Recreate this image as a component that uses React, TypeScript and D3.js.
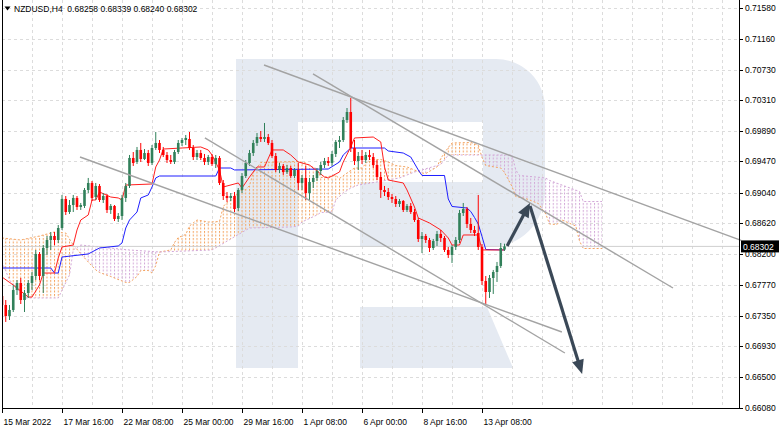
import * as d3 from "d3";

const W = 782;
const H = 430;
const PLOT_LEFT = 2;
const PLOT_RIGHT = 739;
const PLOT_BOTTOM = 408;

// right price scale
const priceTicks = [0.7158, 0.7116, 0.7073, 0.7031, 0.6989, 0.6947, 0.6904, 0.6862, 0.682, 0.6777, 0.6735, 0.6693, 0.665, 0.6608];

// time scale, one label every 16 H4 bars
const timeTickBars = [0, 16, 32, 48, 64, 80, 96, 112, 128];
const timeTickLabels = ["15 Mar 2022", "17 Mar 16:00", "22 Mar 08:00", "25 Mar 00:00", "29 Mar 16:00", "1 Apr 08:00", "6 Apr 00:00", "8 Apr 16:00", "13 Apr 08:00"];

const symbol = "NZDUSD,H4";

// NZDUSD H4 candles, 15 Mar 00:00 .. 14 Apr 08:00
const opens = [
  0.6762, 0.67496, 0.67345, 0.67428, 0.67703, 0.67799, 0.67565, 0.67661, 0.67799, 0.67895,
  0.68198, 0.67895, 0.6828, 0.6839, 0.68445, 0.6839, 0.68555, 0.68954, 0.68775, 0.68871,
  0.68968, 0.68844, 0.68858, 0.69078, 0.69174, 0.68981, 0.69133, 0.6894, 0.68995, 0.68803,
  0.68858, 0.68679, 0.6872, 0.68968, 0.69133, 0.69518, 0.69463, 0.69628, 0.69504, 0.69586,
  0.69449, 0.69655, 0.69724, 0.69628, 0.69559, 0.6949, 0.69463, 0.696, 0.69724, 0.69765,
  0.69779, 0.69655, 0.69531, 0.69586, 0.69518, 0.69463, 0.69531, 0.69435, 0.69518, 0.69174,
  0.68995, 0.68968, 0.68995, 0.6883, 0.69078, 0.6927, 0.69449, 0.69586, 0.69724, 0.69806,
  0.69779, 0.69806, 0.69724, 0.69545, 0.69353, 0.69408, 0.69325, 0.6938, 0.6927, 0.69353,
  0.69174, 0.69243, 0.69036, 0.69188, 0.69243, 0.69339, 0.69421, 0.69476, 0.69449, 0.69573,
  0.69738, 0.69765, 0.7004, 0.7015, 0.69655, 0.69476, 0.69545, 0.6949, 0.69559, 0.69531,
  0.69421, 0.69256, 0.69078, 0.6905, 0.68981, 0.68954, 0.68885, 0.68926, 0.68803, 0.68858,
  0.68775, 0.68665, 0.68404, 0.68445, 0.6839, 0.6828, 0.68376, 0.68473, 0.68418, 0.68253,
  0.68184, 0.68294, 0.6839, 0.68761, 0.68816, 0.6861, 0.68528, 0.68486, 0.68294, 0.67826,
  0.67675, 0.67868, 0.6795, 0.68033, 0.68258,
];
const highs = [
  0.67661, 0.67565, 0.67496, 0.67771, 0.6784, 0.67868, 0.67703, 0.6784, 0.6795, 0.68253,
  0.68225, 0.68321, 0.68445, 0.685, 0.685, 0.68596, 0.69009, 0.68995, 0.6894, 0.69009,
  0.68995, 0.68899, 0.69105, 0.69243, 0.69201, 0.69174, 0.6916, 0.69036, 0.69023, 0.68885,
  0.68871, 0.68761, 0.69009, 0.69174, 0.69559, 0.696, 0.69669, 0.69724, 0.69641, 0.69628,
  0.69696, 0.69875, 0.69765, 0.69669, 0.696, 0.69559, 0.69628, 0.69765, 0.69793, 0.69834,
  0.69875, 0.69696, 0.69628, 0.69628, 0.69573, 0.69559, 0.69573, 0.69559, 0.69545, 0.69215,
  0.6905, 0.69036, 0.6905, 0.69105, 0.69311, 0.6949, 0.69628, 0.69765, 0.69861, 0.69889,
  0.69999, 0.69848, 0.69765, 0.69586, 0.69449, 0.69435, 0.69421, 0.69408, 0.6938, 0.69449,
  0.69284, 0.69408, 0.69243, 0.69284, 0.6938, 0.69463, 0.69518, 0.69531, 0.69614, 0.69765,
  0.6982, 0.70081, 0.70205, 0.70343, 0.69765, 0.696, 0.69628, 0.696, 0.69628, 0.69586,
  0.6949, 0.69325, 0.69133, 0.69105, 0.69023, 0.68995, 0.68954, 0.6894, 0.68885, 0.68899,
  0.68816, 0.68693, 0.685, 0.68473, 0.68418, 0.68404, 0.68514, 0.68528, 0.68445, 0.68294,
  0.68321, 0.68431, 0.68803, 0.68899, 0.68844, 0.68693, 0.68583, 0.69009, 0.68335, 0.67895,
  0.67909, 0.67978, 0.68088, 0.68349, 0.68339,
];
const lows = [
  0.67455, 0.67263, 0.6729, 0.674, 0.67634, 0.6751, 0.674, 0.67593, 0.67703, 0.6784,
  0.6784, 0.67661, 0.68184, 0.68253, 0.68321, 0.68349, 0.68528, 0.68734, 0.68748, 0.68775,
  0.68803, 0.68803, 0.6883, 0.69036, 0.68926, 0.6894, 0.68913, 0.68899, 0.68761, 0.68748,
  0.68651, 0.68638, 0.68665, 0.68913, 0.69105, 0.69408, 0.69435, 0.69463, 0.6949, 0.69408,
  0.69421, 0.69628, 0.69586, 0.69531, 0.69449, 0.69435, 0.69435, 0.69573, 0.69683, 0.69696,
  0.69628, 0.6949, 0.6949, 0.6949, 0.69421, 0.69421, 0.69408, 0.6938, 0.69146, 0.6894,
  0.68913, 0.68926, 0.68775, 0.68789, 0.69036, 0.69243, 0.69408, 0.69545, 0.69683, 0.69738,
  0.69738, 0.69696, 0.69518, 0.69325, 0.69311, 0.69284, 0.69298, 0.69243, 0.69243, 0.69078,
  0.69078, 0.6894, 0.6894, 0.69105, 0.69201, 0.69284, 0.6938, 0.69408, 0.69408, 0.69531,
  0.69655, 0.69738, 0.69999, 0.696, 0.69421, 0.69353, 0.69435, 0.69449, 0.6949, 0.6938,
  0.69215, 0.68968, 0.68995, 0.6894, 0.68899, 0.68844, 0.68844, 0.68775, 0.68775, 0.68748,
  0.68638, 0.68363, 0.68211, 0.68349, 0.68225, 0.68253, 0.68308, 0.68363, 0.68225, 0.68143,
  0.68074, 0.68253, 0.68349, 0.6872, 0.68555, 0.68486, 0.68445, 0.68253, 0.67771, 0.67496,
  0.67593, 0.67648, 0.67813, 0.68005, 0.6824,
];
const closes = [
  0.67496, 0.67345, 0.67428, 0.67703, 0.67799, 0.67565, 0.67661, 0.67799, 0.67895, 0.68198,
  0.67895, 0.6828, 0.6839, 0.68445, 0.6839, 0.68555, 0.68954, 0.68775, 0.68871, 0.68968,
  0.68844, 0.68871, 0.69078, 0.69174, 0.68968, 0.69133, 0.6894, 0.68995, 0.68803, 0.68858,
  0.68679, 0.6872, 0.68968, 0.69133, 0.69518, 0.69449, 0.69628, 0.69504, 0.69586, 0.69449,
  0.69655, 0.69724, 0.69628, 0.69559, 0.6949, 0.69463, 0.696, 0.69724, 0.69765, 0.69793,
  0.69655, 0.69531, 0.69586, 0.69518, 0.69463, 0.69531, 0.69435, 0.69518, 0.69174, 0.68995,
  0.68968, 0.68995, 0.68816, 0.69078, 0.6927, 0.69449, 0.69586, 0.69724, 0.69806, 0.69779,
  0.69806, 0.69724, 0.69545, 0.69353, 0.69408, 0.69325, 0.6938, 0.6927, 0.69353, 0.69174,
  0.69243, 0.69036, 0.69188, 0.69243, 0.69339, 0.69421, 0.69476, 0.69449, 0.69573, 0.69738,
  0.69765, 0.7004, 0.7015, 0.69655, 0.69476, 0.69545, 0.6949, 0.69559, 0.69531, 0.69421,
  0.69256, 0.69078, 0.6905, 0.68981, 0.68954, 0.68885, 0.68926, 0.68803, 0.68858, 0.68775,
  0.68665, 0.68404, 0.68445, 0.6839, 0.6828, 0.68376, 0.68473, 0.68418, 0.68253, 0.68184,
  0.68294, 0.6839, 0.68761, 0.68816, 0.6861, 0.68528, 0.68486, 0.68294, 0.67826, 0.67675,
  0.67868, 0.6795, 0.68033, 0.6828, 0.68302,
];

// Ichimoku lines, [bar, price] points
const tenkan = [
  [0, 0.67881], [3, 0.67771], [7, 0.67606], [8, 0.67606], [10, 0.67771], [11, 0.67936], [14, 0.67936],
  [15, 0.68143], [16, 0.68294], [19, 0.68321], [20, 0.68528], [21, 0.68665], [23, 0.68734], [24, 0.6894],
  [25, 0.6894], [26, 0.6905], [29, 0.68981], [31, 0.68968], [32, 0.6894], [33, 0.69146], [40, 0.6916],
  [41, 0.69394], [42, 0.6949], [43, 0.69641], [53, 0.69669], [55, 0.69628], [56, 0.69559], [58, 0.69353],
  [59, 0.69119], [63, 0.69174], [64, 0.69105], [66, 0.69256], [68, 0.69394], [70, 0.69394], [72, 0.69628],
  [75, 0.69628], [77, 0.69559], [79, 0.69463], [82, 0.69421], [86, 0.69256], [87, 0.69243], [90, 0.69325],
  [91, 0.69463], [93, 0.69669], [94, 0.69793], [99, 0.69806], [101, 0.69738], [102, 0.69394], [103, 0.69215],
  [107, 0.69174], [108, 0.69078], [110, 0.68844], [111, 0.68693], [114, 0.68624], [117, 0.68528], [119, 0.68418],
  [120, 0.68321], [122, 0.68321], [123, 0.68459], [127, 0.68459], [128, 0.68253], [134, 0.68253],
];
const kijun = [
  [0, 0.68005], [13, 0.68005], [14, 0.67936], [15, 0.67936], [16, 0.68156], [23, 0.68198], [26, 0.6828],
  [31, 0.68308], [32, 0.68349], [33, 0.68555], [34, 0.68665], [36, 0.68775], [37, 0.68968], [39, 0.69009],
  [40, 0.69119], [41, 0.69243], [42, 0.6927], [57, 0.6927], [58, 0.6938], [61, 0.6938], [62, 0.69353],
  [87, 0.69366], [90, 0.69463], [91, 0.69559], [93, 0.69655], [102, 0.69655], [103, 0.69614], [107, 0.69586],
  [109, 0.69531], [111, 0.69353], [112, 0.69277], [118, 0.69277], [119, 0.68954], [120, 0.68851], [124, 0.6883],
  [125, 0.68782], [126, 0.687], [127, 0.6861], [128, 0.68438], [129, 0.68259], [134, 0.68253],
];
const spanA = [
  [0, 0.68418], [5, 0.6839], [10, 0.68445], [14, 0.685], [17, 0.68486], [19, 0.68321], [22, 0.68143],
  [25, 0.67978], [26, 0.67943], [29, 0.67888], [33, 0.67806], [34, 0.67806], [36, 0.67888], [37, 0.67971],
  [39, 0.67971], [40, 0.67936], [41, 0.68039], [42, 0.68225], [45, 0.68253], [46, 0.68356], [47, 0.68424],
  [49, 0.68466], [50, 0.68583], [52, 0.68665], [55, 0.68638], [58, 0.68644], [59, 0.68851], [60, 0.68906],
  [62, 0.68968], [63, 0.69064], [65, 0.69084], [66, 0.69139], [67, 0.69318], [68, 0.6938], [69, 0.69456],
  [79, 0.69469], [81, 0.69449], [82, 0.69414], [84, 0.69366], [85, 0.69249], [89, 0.69277], [90, 0.69236],
  [92, 0.69311], [94, 0.6938], [96, 0.6938], [98, 0.69497], [101, 0.69497], [103, 0.69463], [105, 0.69414],
  [108, 0.69394], [112, 0.69311], [113, 0.69304], [116, 0.69394], [117, 0.69511], [119, 0.69662], [120, 0.69724],
  [125, 0.69731], [127, 0.69696], [128, 0.69524], [129, 0.69414], [133, 0.6938], [134, 0.69318], [136, 0.69126],
  [137, 0.68988], [140, 0.68954], [143, 0.68892], [145, 0.68748], [146, 0.6861], [148, 0.68603], [149, 0.68672],
  [153, 0.68583], [154, 0.68376], [155, 0.68273], [160, 0.68273],
];
const spanB = [
  [0, 0.68088], [2, 0.6784], [6, 0.67593], [15, 0.67593], [18, 0.67909], [19, 0.68253], [21, 0.68321],
  [26, 0.68294], [34, 0.68253], [42, 0.68225], [56, 0.68253], [66, 0.68555], [77, 0.68569], [79, 0.68583],
  [80, 0.68638], [84, 0.68734], [85, 0.68768], [88, 0.68775], [89, 0.6894], [91, 0.69036], [93, 0.69105],
  [95, 0.69146], [100, 0.69188], [106, 0.69243], [110, 0.69325], [117, 0.69428], [118, 0.6949], [119, 0.69559],
  [136, 0.69559], [137, 0.69353], [138, 0.69277], [145, 0.69243], [146, 0.69209], [154, 0.69057], [155, 0.68919],
  [160, 0.68919],
];

// drawn objects: trend lines and forecast arrows, [bar, price]
const trendLines = [
  [[69.87, 0.70796], [197.1, 0.68386]],
  [[82.93, 0.70673], [178.93, 0.6773]],
  [[20.8, 0.69531], [149.3, 0.67125]],
  [[54.1, 0.69793], [150.1, 0.66836]],
];
const arrows = [
  [[134.7, 0.68308], [140.8, 0.68899]],
  [[140.8, 0.68858], [154.7, 0.66548]],
];

const x = d3.scaleLinear().domain([0, 16]).range([2, 62]);
const y = d3.scaleLinear().domain([0.6608, 0.7158]).range([408, 8]);
const fmt = d3.format(".5f");

const line = d3
  .line<number[]>()
  .x((d) => x(d[0]))
  .y((d) => y(d[1]));

function Arrow({ from, to }: { from: number[]; to: number[] }) {
  const x0 = x(from[0]);
  const y0 = y(from[1]);
  const x1 = x(to[0]);
  const y1 = y(to[1]);
  const len = Math.hypot(x1 - x0, y1 - y0);
  const ux = (x1 - x0) / len;
  const uy = (y1 - y0) / len;
  const bx = x1 - ux * 14;
  const by = y1 - uy * 14;
  const head = `M${x1},${y1}L${bx - uy * 6},${by + ux * 6}L${bx + uy * 6},${by - ux * 6}Z`;
  return (
    <g>
      <line x1={x0} y1={y0} x2={x1 - ux * 8} y2={y1 - uy * 8} stroke="#3a4857" strokeWidth={3.2} />
      <path d={head} fill="#3a4857" />
    </g>
  );
}

export default function App() {
  const aPts = spanA.map((d) => [x(d[0]), y(d[1])]);
  const bPts = spanB.map((d) => [x(d[0]), y(d[1])]);
  const xa0 = aPts[0][0];
  const xa1 = aPts[aPts.length - 1][0];
  const aPath = aPts.map((p) => p.join(",")).join("L");
  const cloud = `M${aPath}L${bPts.slice().reverse().map((p) => p.join(",")).join("L")}Z`;
  const belowA = `M${aPath}L${xa1},${PLOT_BOTTOM}L${xa0},${PLOT_BOTTOM}Z`;
  const aboveA = `M${aPath}L${xa1},0L${xa0},0Z`;

  const last = closes[closes.length - 1];
  const gridX = d3.range(8, 193, 8);
  const font = "'Liberation Sans', Arial, sans-serif";

  return (
    <>
      <style>{"body{margin:0}"}</style>
      <svg width={W} height={H} style={{ display: "block", background: "#fff" }}>
        <defs>
          <pattern id="hatchA" patternUnits="userSpaceOnUse" x={x(0) - 0.5} y={0} width={3.75} height={3.5}>
            <rect width={1} height={2} fill="#f4a460" />
          </pattern>
          <pattern id="hatchB" patternUnits="userSpaceOnUse" x={x(0) - 0.5} y={0} width={3.75} height={3.5}>
            <rect width={1} height={2} fill="#d3a8d8" />
          </pattern>
          <clipPath id="belowA">
            <path d={belowA} />
          </clipPath>
          <clipPath id="aboveA">
            <path d={aboveA} />
          </clipPath>
          <clipPath id="plot">
            <rect x={PLOT_LEFT} y={0} width={PLOT_RIGHT - PLOT_LEFT} height={PLOT_BOTTOM} />
          </clipPath>
        </defs>

        {/* watermark */}
        <g fill="#e5eaf2">
          <path d="M236,59H298V368H236Z" />
          <path d="M298,59H496A49,49 0 0 1 545,108V192A55,55 0 0 1 490,247H360V182H483V122H298Z" />
          <path d="M360,307H487L513,368H360Z" />
        </g>

        {/* grid */}
        <g stroke="#dcdcdc" strokeDasharray="3 3">
          {priceTicks.map((t) => (
            <line key={t} x1={PLOT_LEFT} x2={PLOT_RIGHT} y1={Math.round(y(t)) + 0.5} y2={Math.round(y(t)) + 0.5} />
          ))}
          {gridX.map((b) => (
            <line key={b} x1={Math.round(x(b)) + 0.5} x2={Math.round(x(b)) + 0.5} y1={0} y2={PLOT_BOTTOM} />
          ))}
        </g>

        <g clipPath="url(#plot)">
          {/* cloud */}
          <g clipPath="url(#belowA)">
            <path d={cloud} fill="url(#hatchA)" />
          </g>
          <g clipPath="url(#aboveA)">
            <path d={cloud} fill="url(#hatchB)" />
          </g>
          <path d={line(spanA) ?? ""} fill="none" stroke="#f4a460" strokeDasharray="2 2" />
          <path d={line(spanB) ?? ""} fill="none" stroke="#d3a8d8" strokeDasharray="2 2" />

          {/* last price line */}
          <line x1={PLOT_LEFT} x2={PLOT_RIGHT} y1={y(last)} y2={y(last)} stroke="#cfcfcf" />

          <path d={line(kijun) ?? ""} fill="none" stroke="#1f1fff" strokeWidth={1} />
          <path d={line(tenkan) ?? ""} fill="none" stroke="#ff1f1f" strokeWidth={1} />

          {/* candles */}
          {opens.map((o, i) => {
            const c = closes[i];
            const up = c >= o;
            const col = up ? "#31805a" : "#ff0000";
            const cx = x(i);
            const top = y(Math.max(o, c));
            const bot = y(Math.min(o, c));
            return (
              <g key={i}>
                <line x1={cx} x2={cx} y1={y(highs[i])} y2={y(lows[i])} stroke={col} strokeWidth={1} />
                <rect x={cx - 1.3} y={top} width={2.6} height={Math.max(1, bot - top)} fill={col} />
              </g>
            );
          })}
        </g>

        {/* trend lines */}
        <g stroke="#a3a3a3" strokeWidth={1.4}>
          {trendLines.map((l, i) => (
            <line key={i} x1={x(l[0][0])} y1={y(l[0][1])} x2={x(l[1][0])} y2={y(l[1][1])} />
          ))}
        </g>

        {arrows.map((a, i) => (
          <Arrow key={i} from={a[0]} to={a[1]} />
        ))}

        {/* frame and axes */}
        <g stroke="#000" strokeWidth={1}>
          <line x1={2.5} x2={2.5} y1={0} y2={PLOT_BOTTOM + 0.5} />
          <line x1={PLOT_RIGHT + 0.5} x2={PLOT_RIGHT + 0.5} y1={0} y2={PLOT_BOTTOM + 0.5} />
          <line x1={2} x2={PLOT_RIGHT + 1} y1={PLOT_BOTTOM + 0.5} y2={PLOT_BOTTOM + 0.5} />
          {priceTicks.map((t) => (
            <line key={t} x1={PLOT_RIGHT} x2={PLOT_RIGHT + 4} y1={Math.round(y(t)) + 0.5} y2={Math.round(y(t)) + 0.5} />
          ))}
          {timeTickBars.map((b) => (
            <line key={b} x1={Math.round(x(b)) + 0.5} x2={Math.round(x(b)) + 0.5} y1={PLOT_BOTTOM} y2={PLOT_BOTTOM + 5} />
          ))}
        </g>

        <g fontFamily={font} fontSize={8.5} fill="#000">
          {priceTicks.map((t) => (
            <text key={t} x={745} y={y(t) + 3}>
              {fmt(t)}
            </text>
          ))}
          {timeTickBars.map((b, i) => (
            <text key={b} x={x(b) + 1.5} y={425}>
              {timeTickLabels[i]}
            </text>
          ))}
        </g>

        {/* last price label, drawn over the scale like the terminal does */}
        <rect x={741} y={y(last) - 6} width={38} height={12} fill="#000" />
        <text x={743} y={y(last) + 3.2} fontFamily={font} fontSize={8.5} fill="#fff">
          {fmt(last)}
        </text>

        {/* title */}
        <path d="M4.5,6.5H10.5L7.5,10.5Z" fill="#000" />
        <text x={14} y={12} fontFamily={font} fontSize={8.5} fill="#000" xmlSpace="preserve">
          {`${symbol}  ${fmt(opens[134])} ${fmt(highs[134])} ${fmt(lows[134])} ${fmt(closes[134])}`}
        </text>
      </svg>
    </>
  );
}
